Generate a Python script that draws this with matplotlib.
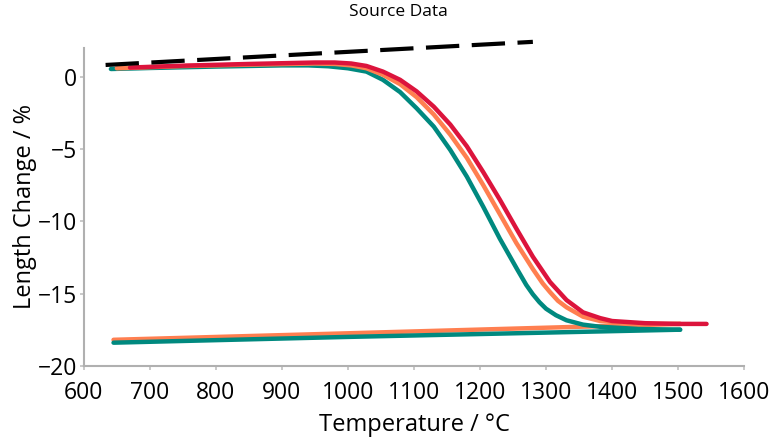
import matplotlib.pyplot as plt

# heating curves (temperature in °C, length change in %)
teal_T = [641, 700, 800, 900, 940, 970, 1000, 1028, 1053, 1079, 1104, 1130, 1155, 1180, 1205, 1230, 1256, 1270, 1280, 1290, 1300, 1315, 1331, 1356, 1382, 1440, 1503]
teal_y = [0.55, 0.62, 0.72, 0.8, 0.8, 0.74, 0.6, 0.37, -0.2, -1.05, -2.17, -3.44, -5.06, -6.9, -9.0, -11.2, -13.3, -14.4, -15.05, -15.6, -16.05, -16.5, -16.85, -17.15, -17.3, -17.45, -17.5]

orange_T = [650, 750, 850, 950, 980, 1005, 1028, 1053, 1079, 1104, 1130, 1155, 1180, 1205, 1230, 1255, 1280, 1295, 1306, 1318, 1331, 1356, 1382, 1440, 1503]
orange_y = [0.6, 0.75, 0.85, 0.93, 0.9, 0.8, 0.6, 0.15, -0.5, -1.4, -2.6, -4.0, -5.6, -7.5, -9.5, -11.5, -13.3, -14.3, -14.9, -15.5, -15.95, -16.6, -16.9, -17.1, -17.1]

red_T = [670, 750, 850, 950, 980, 1005, 1028, 1053, 1079, 1104, 1130, 1155, 1180, 1205, 1230, 1255, 1280, 1306, 1331, 1356, 1382, 1400, 1450, 1500, 1543]
red_y = [0.65, 0.78, 0.9, 1.0, 1.0, 0.93, 0.76, 0.37, -0.2, -1.0, -2.06, -3.3, -4.8, -6.6, -8.5, -10.5, -12.45, -14.2, -15.45, -16.3, -16.7, -16.9, -17.05, -17.1, -17.1]

# cooling lines
orange_cool_T = [645, 1000, 1503]
orange_cool_y = [-18.2, -17.75, -17.1]
teal_cool_T = [645, 1000, 1503]
teal_cool_y = [-18.4, -18.0, -17.5]

# reference line
ref_T = [633, 1280]
ref_y = [0.83, 2.43]

plt.rcParams['font.family'] = ['Open Sans', 'DejaVu Sans']

fig = plt.figure(figsize=(7.76, 4.45), dpi=100)
ax = fig.add_axes([0.108, 0.178, 0.851, 0.714])

lw = 3.2
ax.plot(orange_cool_T, orange_cool_y, color="#ff7f50", lw=lw, solid_capstyle="round")
ax.plot(teal_cool_T, teal_cool_y, color="#00897f", lw=lw, solid_capstyle="round")
ax.plot(teal_T, teal_y, color="#00897f", lw=lw, solid_capstyle="round", solid_joinstyle="round")
ax.plot(orange_T, orange_y, color="#ff7f50", lw=lw, solid_capstyle="round", solid_joinstyle="round")
ax.plot(red_T, red_y, color="#dc143c", lw=lw, solid_capstyle="round", solid_joinstyle="round")
ax.plot(ref_T, ref_y, color="black", lw=3, dashes=(8, 3), clip_on=False)

ax.set_xlim(600, 1600)
ax.set_ylim(-20, 2)
ax.set_xticks(range(600, 1700, 100))
ax.set_yticks([0, -5, -10, -15, -20])
ax.set_xlabel("Temperature / °C", fontsize=17, labelpad=6)
ax.set_ylabel("Length Change / %", fontsize=17, labelpad=0)
fig.suptitle("Source Data", fontsize=12.5, x=0.513, y=0.99)

for s in ["top", "right"]:
    ax.spines[s].set_visible(False)
for s in ["left", "bottom"]:
    ax.spines[s].set_color("#b0b0b0")
    ax.spines[s].set_linewidth(1.5)
ax.tick_params(colors="#c0c0c0", labelcolor="black", labelsize=16.5, width=1.2, length=3)
ax.tick_params(axis="x", pad=8)
ax.tick_params(axis="y", pad=2)

fig.savefig("out.png")
